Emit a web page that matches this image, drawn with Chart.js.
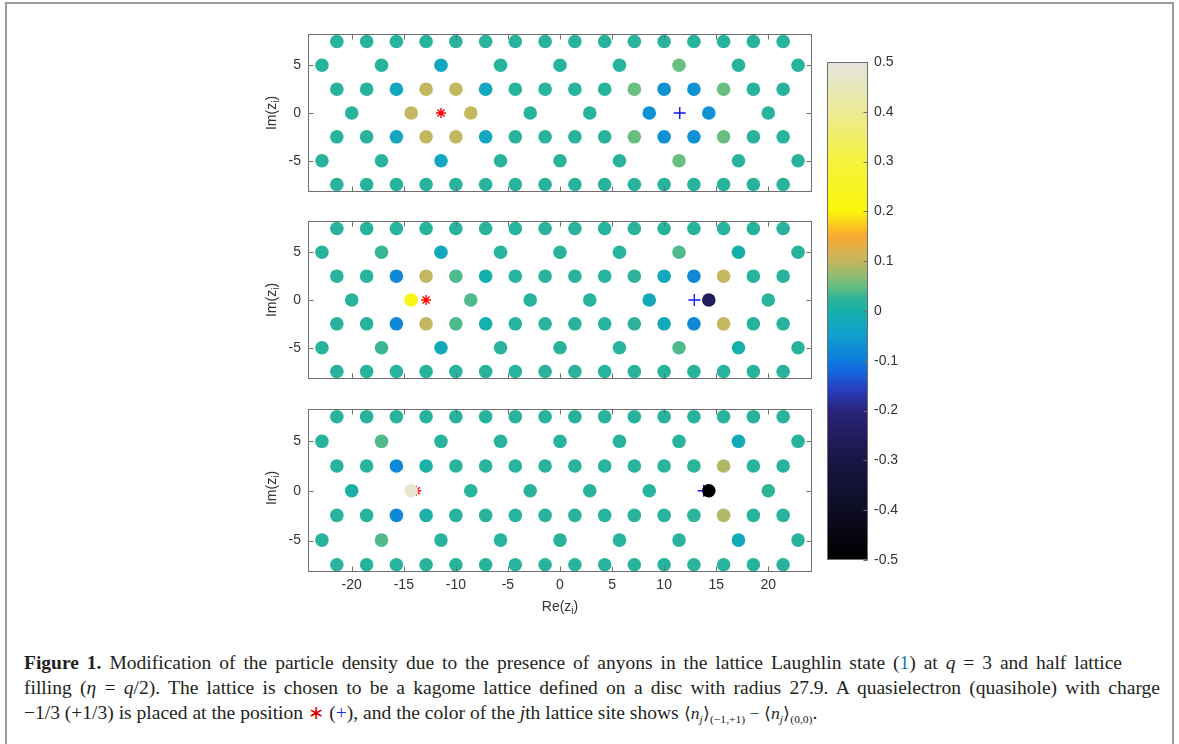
<!DOCTYPE html>
<html><head><meta charset="utf-8">
<script src="https://cdn.jsdelivr.net/npm/chart.js@4/dist/chart.umd.min.js"></script>
<style>
html,body{margin:0;padding:0;background:#fff;}
body{width:1179px;height:744px;position:relative;overflow:hidden;font-family:"Liberation Sans",Arial,sans-serif;}
#frame{position:absolute;left:5px;top:2px;width:1165px;height:780px;border:2px solid #9c9c9c;}
canvas{position:absolute;}
.ytitle{position:absolute;font-size:14px;color:#333;white-space:nowrap;transform:translate(-50%,-50%) rotate(-90deg);}
.xtitle{position:absolute;font-size:14px;color:#333;white-space:nowrap;transform:translate(-50%,-50%);}
.ytitle sub,.xtitle sub{font-size:10px;vertical-align:-3px;line-height:0;}
#cap{position:absolute;left:24px;top:650px;font-family:"Liberation Serif","Times New Roman",serif;font-size:19px;line-height:25px;color:#231f20;}
#cap .ln{white-space:nowrap;display:block;transform-origin:0 50%;width:max-content;}
#cap sub{font-size:0.66em;vertical-align:-0.35em;line-height:0;}
#cap .m{font-size:0.9em;}
</style></head><body>
<div id="frame"></div>
<canvas id="p0" width="580" height="188" style="left:250px;top:19px"></canvas>
<canvas id="p1" width="580" height="188" style="left:250px;top:206px"></canvas>
<canvas id="p2" width="580" height="213" style="left:250px;top:394px"></canvas>
<canvas id="cb" width="130" height="545" style="left:800px;top:40px"></canvas>
<div class="ytitle" style="left:271px;top:113px">Im(z<sub>i</sub>)</div>
<div class="ytitle" style="left:271px;top:300px">Im(z<sub>i</sub>)</div>
<div class="ytitle" style="left:271px;top:488px">Im(z<sub>i</sub>)</div>
<div class="xtitle" style="left:560px;top:606px">Re(z<sub>i</sub>)</div>
<div id="cap">
<div class="ln" data-w="1098"><b>Figure 1.</b> Modification of the particle density due to the presence of anyons in the lattice Laughlin state (<span style="color:#1a73b8">1</span>) at <i>q</i> = 3 and half lattice</div>
<div class="ln" data-w="1136">filling (<i>η</i> = <i>q</i>/2). The lattice is chosen to be a kagome lattice defined on a disc with radius 27.9. A quasielectron (quasihole) with charge</div>
<div class="ln" data-w="670">−1/3 (+1/3) is placed at the position <span style="color:#e00000">∗</span> (<span style="color:#2030e0">+</span>), and the color of the <i>j</i>th lattice site shows <span class="m">⟨<i>n<sub>j</sub></i>⟩<sub>(−1,+1)</sub> − ⟨<i>n<sub>j</sub></i>⟩<sub>(0,0)</sub></span>.</div>
</div>
<script>
// ---------- data ----------
const ROW_Y = [7.42, 4.95, 2.47, 0, -2.47, -4.95, -7.42];
const X_DENSE = [-21.43,-18.57,-15.71,-12.86,-10.00,-7.14,-4.29,-1.43,1.43,4.29,7.14,10.00,12.86,15.71,18.57,21.43];
const X_EVEN = [-22.86,-17.14,-11.43,-5.71,0,5.71,11.43,17.14,22.86];
const X_ODD = [-20.00,-14.29,-8.57,-2.86,2.86,8.57,14.29,20.00];
const ROW_X = [X_DENSE, X_EVEN, X_DENSE, X_ODD, X_DENSE, X_EVEN, X_DENSE];

const VALS_TOP = [
 [0.02,0.02,0.02,0.02,0.02,0.02,0.02,0.02,0.02,0.02,0.02,0.02,0.02,0.02,0.02,0.02],
 [0.02,0.02,-0.03,0.02,0.02,0.02,0.05,0.02,0.02],
 [0.02,0.02,-0.03,0.10,0.10,-0.03,0.02,0.02,0.02,0.02,0.05,-0.07,-0.07,0.05,0.02,0.02],
 [0.02,0.10,0.10,0.02,0.02,-0.07,-0.07,0.02],
 [0.02,0.02,-0.03,0.10,0.10,-0.03,0.02,0.02,0.02,0.02,0.05,-0.07,-0.07,0.05,0.02,0.02],
 [0.02,0.02,-0.03,0.02,0.02,0.02,0.05,0.02,0.02],
 [0.02,0.02,0.02,0.02,0.02,0.02,0.02,0.02,0.02,0.02,0.02,0.02,0.02,0.02,0.02,0.02]
];
const VALS_MID = [
 [0.02,0.02,0.02,0.02,0.02,0.02,0.02,0.02,0.02,0.02,0.02,0.02,0.02,0.02,0.02,0.02],
 [0.02,0.03,-0.025,0.02,0.02,0.02,0.04,0.0,0.02],
 [0.02,0.02,-0.08,0.10,0.04,0.0,0.02,0.02,0.02,0.02,0.025,-0.025,-0.08,0.10,0.02,0.02],
 [0.02,0.22,0.04,0.02,0.02,-0.025,-0.25,0.02],
 [0.02,0.02,-0.08,0.10,0.04,0.0,0.02,0.02,0.02,0.02,0.025,-0.025,-0.08,0.10,0.02,0.02],
 [0.02,0.03,-0.025,0.02,0.02,0.02,0.04,0.0,0.02],
 [0.02,0.02,0.02,0.02,0.02,0.02,0.02,0.02,0.02,0.02,0.02,0.02,0.02,0.02,0.02,0.02]
];
const VALS_BOT = [
 [0.02,0.02,0.02,0.02,0.02,0.02,0.02,0.02,0.02,0.02,0.02,0.02,0.02,0.02,0.02,0.02],
 [0.02,0.04,0.02,0.02,0.02,0.02,0.02,-0.02,0.02],
 [0.02,0.02,-0.08,0.005,0.02,0.02,0.02,0.02,0.02,0.02,0.02,0.02,0.025,0.09,0.02,0.02],
 [0.005,0.48,0.02,0.02,0.02,0.02,-0.5,0.025],
 [0.02,0.02,-0.08,0.005,0.02,0.02,0.02,0.02,0.02,0.02,0.02,0.02,0.025,0.09,0.02,0.02],
 [0.02,0.04,0.02,0.02,0.02,0.02,0.02,-0.02,0.02],
 [0.02,0.02,0.02,0.02,0.02,0.02,0.02,0.02,0.02,0.02,0.02,0.02,0.02,0.02,0.02,0.02]
];
const PANEL_VALS = [VALS_TOP, VALS_MID, VALS_BOT];
const QE_X = [-11.43, -12.86, -13.8];   // quasielectron (red *)
const QH_X = [11.5, 12.9, 13.8];        // quasihole (blue +)
const QP_Y = [0, 0, 0];

const X_TICKS = [-20,-15,-10,-5,0,5,10,15,20];
const Y_TICKS = [-5,0,5];
const CB_TICKS = [-0.5,-0.4,-0.3,-0.2,-0.1,0,0.1,0.2,0.3,0.4,0.5];

// ---------- colormap ----------
const CMAP = [
 [-0.5,[0,0,0]],[-0.4,[14,13,36]],[-0.3,[24,22,68]],[-0.2,[42,36,122]],
 [-0.16,[40,60,190]],[-0.12,[20,105,222]],[-0.1,[15,122,222]],[-0.05,[15,160,205]],
 [0,[22,176,170]],[0.025,[45,180,152]],[0.05,[105,190,128]],[0.1,[195,183,95]],
 [0.15,[250,168,50]],[0.2,[250,245,10]],[0.3,[245,243,60]],[0.4,[236,234,150]],[0.5,[228,228,222]]
];
function cmap(v){
  if (v <= CMAP[0][0]) return 'rgb('+CMAP[0][1].join(',')+')';
  for (let i=1;i<CMAP.length;i++){
    if (v <= CMAP[i][0]){
      const [a,ca]=CMAP[i-1],[b,cb]=CMAP[i];
      const t=(v-a)/(b-a);
      return 'rgb('+ca.map((c,k)=>Math.round(c+(cb[k]-c)*t)).join(',')+')';
    }
  }
  return 'rgb('+CMAP[CMAP.length-1][1].join(',')+')';
}

// ---------- plugins ----------
const boxPlugin = {
  id:'box',
  afterDatasetsDraw(chart, args, o){
    const {ctx, chartArea:a, scales} = chart;
    ctx.save();
    ctx.strokeStyle = o.color; ctx.lineWidth = 1;
    const L=Math.round(a.left)+0.5, R=Math.round(a.right)-0.5, T=Math.round(a.top)+0.5, B=Math.round(a.bottom)-0.5;
    ctx.beginPath();
    if (o.xTicks) scales.x.ticks.forEach(t=>{const p=Math.round(scales.x.getPixelForValue(t.value))+0.5;
      ctx.moveTo(p,B); ctx.lineTo(p,B-o.len); ctx.moveTo(p,T); ctx.lineTo(p,T+o.len);});
    if (o.yTicks) scales.y.ticks.forEach(t=>{const p=Math.round(scales.y.getPixelForValue(t.value))+0.5;
      if (o.yLeft){ctx.moveTo(L,p); ctx.lineTo(L+o.len,p);}
      ctx.moveTo(R,p); ctx.lineTo(R-o.len,p);});
    ctx.stroke();
    ctx.strokeRect(L,T,R-L,B-T);
    ctx.restore();
  }
};
Chart.register(boxPlugin);
Chart.defaults.font.family = '"Liberation Sans", Arial, sans-serif';
Chart.defaults.font.size = 14;
Chart.defaults.color = '#333333';

const NOGRID = {display:false, drawTicks:false, tickLength:0};

function panel(id, p, showX){
  const pts=[], cols=[];
  ROW_Y.forEach((y,r)=>{ ROW_X[r].forEach((x,i)=>{ pts.push({x,y}); cols.push(cmap(PANEL_VALS[p][r][i])); }); });
  new Chart(document.getElementById(id), {
    type:'scatter',
    data:{datasets:[
      {data:pts, pointBackgroundColor:cols, pointBorderWidth:0, pointRadius:6.8, pointHoverRadius:6.8, showLine:false},
      {data:[{x:QE_X[p],y:QP_Y[p]},{x:QH_X[p],y:QP_Y[p]}], pointStyle:['star','cross'], pointRadius:[5,6], pointHoverRadius:[5,6],
       pointBorderColor:['#ff0000','#1010ff'], pointBackgroundColor:['#ff0000','#1010ff'], pointBorderWidth:1.4, showLine:false}
    ]},
    options:{
      responsive:false, animation:false, devicePixelRatio:1,
      layout:{autoPadding:false, padding:{left:8,right:18,top:10,bottom:showX?5:10}},
      plugins:{legend:{display:false}, tooltip:{enabled:false}, box:{color:'#6e6e6e', len:5, xTicks:true, yTicks:true, yLeft:true}},
      scales:{
        x:{type:'linear', min:-24.2, max:24.2, grid:NOGRID, border:{display:false},
           afterBuildTicks:s=>{s.ticks=X_TICKS.map(v=>({value:v}));},
           ticks:{display:showX, padding:5, callback:v=>String(v)},
           afterFit:s=>{s.height=showX?30:0;}},
        y:{type:'linear', min:-8.15, max:8.15, grid:NOGRID, border:{display:false},
           afterBuildTicks:s=>{s.ticks=Y_TICKS.map(v=>({value:v}));},
           ticks:{padding:7, callback:v=>String(v)},
           afterFit:s=>{s.width=50;}}
      }
    }
  });
}
panel('p0',0,false);
panel('p1',1,false);
panel('p2',2,true);

// colorbar
new Chart(document.getElementById('cb'), {
  type:'bar',
  data:{labels:[''], datasets:[{data:[[-0.5,0.5]], borderWidth:0, barPercentage:1, categoryPercentage:1,
    backgroundColor:(c)=>{
      const ch=c.chart, a=ch.chartArea, ys=ch.scales.y;
      if(!a||!ys) return '#20b0a8';
      const y0=ys.getPixelForValue(-0.5), y1=ys.getPixelForValue(0.5);
      const g=ch.ctx.createLinearGradient(0,y0,0,y1);
      CMAP.forEach(([v,c])=>g.addColorStop((v+0.5)/1.0,'rgb('+c.join(',')+')'));
      return g;
    }}]},
  options:{
    responsive:false, animation:false, devicePixelRatio:1,
    layout:{autoPadding:false, padding:{left:27,right:12,top:22,bottom:25}},
    plugins:{legend:{display:false}, tooltip:{enabled:false}, box:{color:'#6e6e6e', len:4, xTicks:false, yTicks:true, yLeft:false}},
    scales:{
      x:{display:false},
      y:{type:'linear', position:'right', min:-0.5, max:0.5, grid:NOGRID, border:{display:false},
         afterBuildTicks:s=>{s.ticks=CB_TICKS.map(v=>({value:v}));},
         ticks:{padding:6, callback:v=>String(v)},
         afterFit:s=>{s.width=50;}}
    }
  }
});

// caption: condensed font, first two lines justified via word-spacing
function fit(){
  const lines=[...document.querySelectorAll('#cap .ln')];
  lines.forEach(el=>{el.style.transform='none'; el.style.wordSpacing='0px';});
  const ws=lines.map(el=>el.getBoundingClientRect().width);
  const sa=(parseFloat(lines[0].dataset.w)/ws[0]+parseFloat(lines[1].dataset.w)/ws[1])/2;
  const s=sa*0.93;
  lines.forEach((el,i)=>{
    if (i<2){
      const n=el.textContent.trim().split(/ +/).length-1;
      const extra=parseFloat(el.dataset.w)/s - ws[i];
      el.style.wordSpacing=(extra/n)+'px';
    }
    el.style.transform='scaleX('+s+')';
  });
}
fit();
if (document.fonts && document.fonts.ready) document.fonts.ready.then(fit);
</script>
</body></html>
